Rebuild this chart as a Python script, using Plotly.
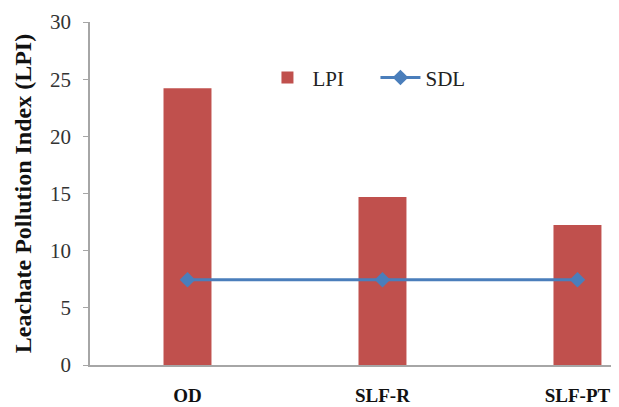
import plotly.graph_objects as go

categories = ["OD", "SLF-R", "SLF-PT"]
lpi_values = [24.2, 14.7, 12.25]
sdl_values = [7.45, 7.45, 7.45]
y_ticks = [0, 5, 10, 15, 20, 25, 30]

xpos = list(range(len(categories)))

fig = go.Figure()
fig.add_trace(go.Bar(
    x=xpos, y=lpi_values, name="LPI",
    marker=dict(color="#C0504D", line=dict(width=0)),
    width=0.246,
))
fig.add_trace(go.Scatter(
    x=xpos, y=sdl_values, name="SDL", mode="lines+markers",
    line=dict(color="#4A7EBB", width=3),
    marker=dict(symbol="diamond", size=12, color="#4A7EBB"),
))

fig.update_layout(
    width=619, height=407,
    margin=dict(l=82, r=8, t=14, b=50, autoexpand=False),
    plot_bgcolor="white", paper_bgcolor="white",
    font=dict(family="Liberation Serif", color="#222222"),
    showlegend=True,
    legend=dict(
        orientation="h", x=0.326, y=0.837, xanchor="left", yanchor="middle",
        font=dict(family="Liberation Serif", size=21, color="#222222"),
        bgcolor="rgba(0,0,0,0)", itemwidth=40, traceorder="normal",
        entrywidth=58, entrywidthmode="pixels",
    ),
    xaxis=dict(
        range=[-0.5, 2.213], tickvals=xpos,
        ticktext=["<b>" + c + "</b>" for c in categories],
        showline=True, linecolor="#A6A6A6", linewidth=1.5,
        ticks="", showgrid=False, zeroline=False, automargin=False,
        tickfont=dict(family="Liberation Serif", size=19, color="#111111"),
        ticklabelstandoff=12,
    ),
    yaxis=dict(
        range=[0, 30], tickvals=y_ticks,
        showline=True, linecolor="#A6A6A6", linewidth=1.5,
        ticks="outside", ticklen=5, tickcolor="#A6A6A6",
        showgrid=False, zeroline=False, automargin=False,
        tickfont=dict(family="Liberation Serif", size=21, color="#333333"),
        ticklabelstandoff=8,
        title=dict(text="<b>Leachate Pollution Index (LPI)</b>",
                   font=dict(family="Liberation Serif", size=24, color="#111111"),
                   standoff=12),
    ),
)

fig.write_html("out.html")
